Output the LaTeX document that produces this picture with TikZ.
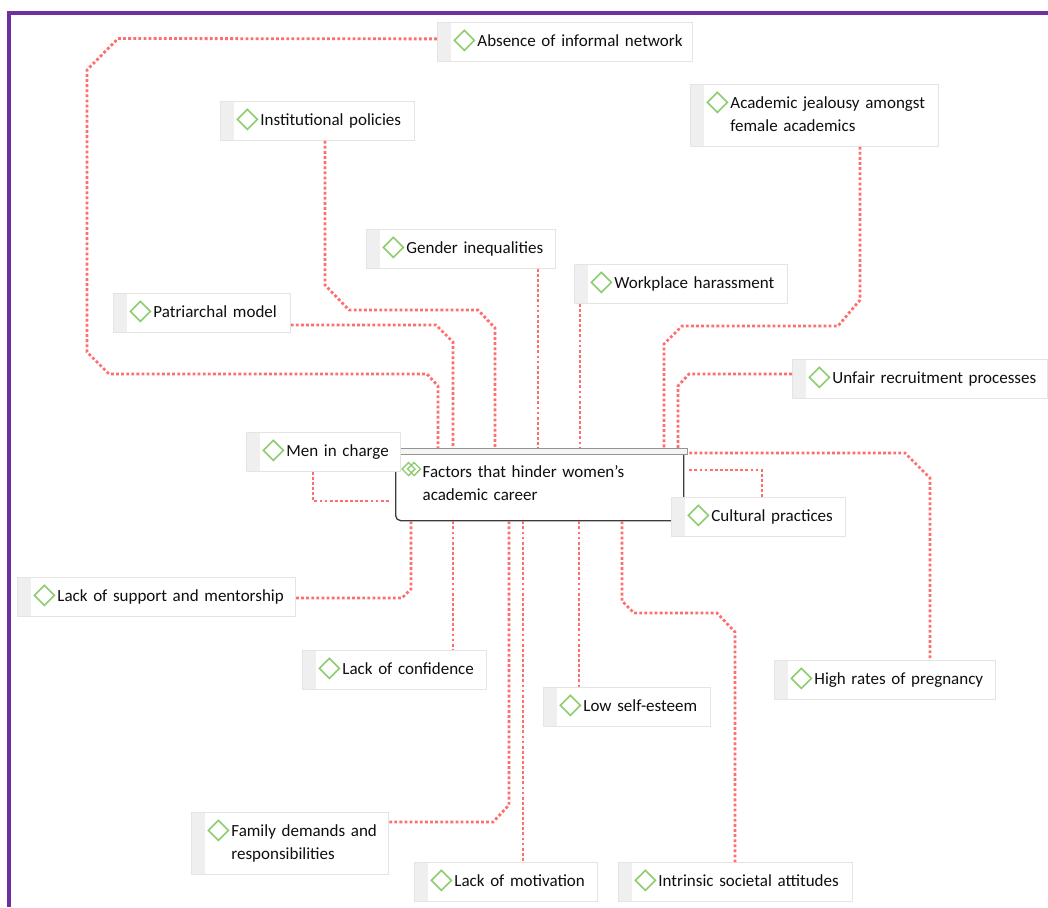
\documentclass[tikz,border=0pt]{standalone}
\usepackage{fontspec}
\setmainfont{Carlito}
\usetikzlibrary{positioning}
\definecolor{framepurple}{RGB}{112,48,160}
\definecolor{linkred}{RGB}{255,110,110}
\definecolor{leafgreen}{RGB}{140,205,110}
\definecolor{tabgray}{RGB}{239,239,239}
\definecolor{boxline}{RGB}{228,228,228}
\definecolor{inkgray}{RGB}{15,15,15}
\definecolor{hubline}{RGB}{60,60,60}
\newcommand{\factortext}[2][40pt]{\noindent\begin{tabular}{@{\hskip#1}l@{}}#2\end{tabular}}

\begin{document}
\begin{tikzpicture}[
    x=1pt, y=-1pt,
    factor/.style={anchor=north west, draw=boxline, fill=white, line width=0.8pt, text width=#1pt, inner xsep=0pt, inner ysep=8pt, minimum height=39pt, align=left, font=\fontsize{17}{23}\selectfont, text=inkgray,
        path picture={
            \fill[tabgray] (path picture bounding box.north west) rectangle ([xshift=14pt]path picture bounding box.south west);
            \draw[leafgreen, line width=1.6pt] ([xshift=17pt,yshift=-18pt]path picture bounding box.north west) -- ++(10pt,10pt) -- ++(10pt,-10pt) -- ++(-10pt,-10pt) -- cycle;
        }},
    hub/.style={anchor=north west, draw=hubline, fill=white, line width=1.3pt, rounded corners=5pt, minimum width=288pt, minimum height=72pt, text width=288pt, inner sep=0pt, align=left, font=\fontsize{17}{23}\selectfont, text=inkgray},
    link/.style={draw=linkred, line width=2.8pt, dash pattern=on 2.8pt off 2.3pt},
    frame/.style={draw=framepurple, line width=4pt}
]
\useasboundingbox (0,0) rectangle (1048,907);
\draw[frame] (9,907) -- (9,13) -- (1048,13);

% Central factor
\node[hub] (hub) at (395,448) {\factortext[27pt]{Factors that hinder women’s\\academic career}};
\draw[hubline!55, fill=tabgray!60, line width=1pt] (hub.north west) rectangle ([xshift=3pt,yshift=-6pt]hub.north east);
\draw[leafgreen, line width=1.4pt] ([xshift=7pt,yshift=-21pt]hub.north west) -- ++(6.5pt,6.5pt) -- ++(6.5pt,-6.5pt) -- ++(-6.5pt,-6.5pt) -- cycle;
\draw[leafgreen, line width=1.4pt] ([xshift=12.5pt,yshift=-21pt]hub.north west) -- ++(6.5pt,6.5pt) -- ++(6.5pt,-6.5pt) -- ++(-6.5pt,-6.5pt) -- cycle;

% Factors above
\node[factor=255] (absence) at (437,22) {\factortext{Absence of informal network}};
\node[factor=194] (policies) at (220,101) {\factortext{Institutional policies}};
\node[factor=248] (jealousy) at (690,84) {\factortext{Academic jealousy amongst\\female academics}};
\node[factor=189] (gender) at (366,229) {\factortext{Gender inequalities}};
\node[factor=213] (harassment) at (574,264) {\factortext{Workplace harassment}};
\node[factor=177] (patriarchal) at (113,293) {\factortext{Patriarchal model}};
\node[factor=255] (recruitment) at (792,359) {\factortext{Unfair recruitment processes}};
\node[factor=154] (mencharge) at (246,432) {\factortext{Men in charge}};
\node[factor=174] (culture) at (671,497) {\factortext{Cultural practices}};

% Factors below
\node[factor=278] (support) at (17,577) {\factortext{Lack of support and mentorship}};
\node[factor=184] (confidence) at (302,650) {\factortext{Lack of confidence}};
\node[factor=221] (pregnancy) at (774,660) {\factortext{High rates of pregnancy}};
\node[factor=167] (selfesteem) at (543,687) {\factortext{Low self-esteem}};
\node[factor=197] (family) at (191,812) {\factortext{Family demands and\\responsibilities}};
\node[factor=183] (motivation) at (414,862) {\factortext{Lack of motivation}};
\node[factor=234] (attitudes) at (618,862) {\factortext{Intrinsic societal attitudes}};

% Links into the top
\draw[link] ([yshift=3pt]absence.west) -- (118,38.5) -- (87,70) -- (87,352) -- (109,374) -- (427,374) -- (438,386) -- (438,0 |- hub.north);
\draw[link] (325,0 |- policies.south) -- (325,285) -- (349,310) -- (478,310) -- (495,328) -- (495,0 |- hub.north);
\draw[link] (patriarchal.east |- 0,325) -- (436,325) -- (453,342) -- (453,0 |- hub.north);
\draw[link] (538,0 |- gender.south) -- (538,0 |- hub.north);
\draw[link] (580,0 |- harassment.south) -- (580,0 |- hub.north);
\draw[link] (860,0 |- jealousy.south) -- (860,300) -- (838,326) -- (682,326) -- (664,344) -- (664,0 |- hub.north);
\draw[link] (recruitment.west |- 0,374) -- (689,374) -- (678,386) -- (678,0 |- hub.north);

% Links at the sides
\draw[link, shorten >=5pt] (313,0 |- mencharge.south) -- (313,501) -- (hub.west |- 0,501);
\draw[link, shorten <=5pt] (hub.east |- 0,453) -- (905,453) -- (930,478) -- (930,0 |- pregnancy.north);
\draw[link, shorten <=5pt] (hub.east |- 0,470) -- (762,470) -- (762,0 |- culture.north);

% Links out of the bottom
\draw[link] (411,0 |- hub.south) -- (411,589) -- (402,598) -- (support.east |- 0,598);
\draw[link] (453,0 |- hub.south) -- (453,0 |- confidence.north);
\draw[link] (509,0 |- hub.south) -- (509,805) -- (493,822) -- (family.east |- 0,822);
\draw[link] (523,0 |- hub.south) -- (523,0 |- motivation.north);
\draw[link] (579,0 |- hub.south) -- (579,0 |- selfesteem.north);
\draw[link] (622,0 |- hub.south) -- (622,601) -- (634,613) -- (717,613) -- (735,632) -- (735,0 |- attitudes.north);
\end{tikzpicture}
\end{document}
